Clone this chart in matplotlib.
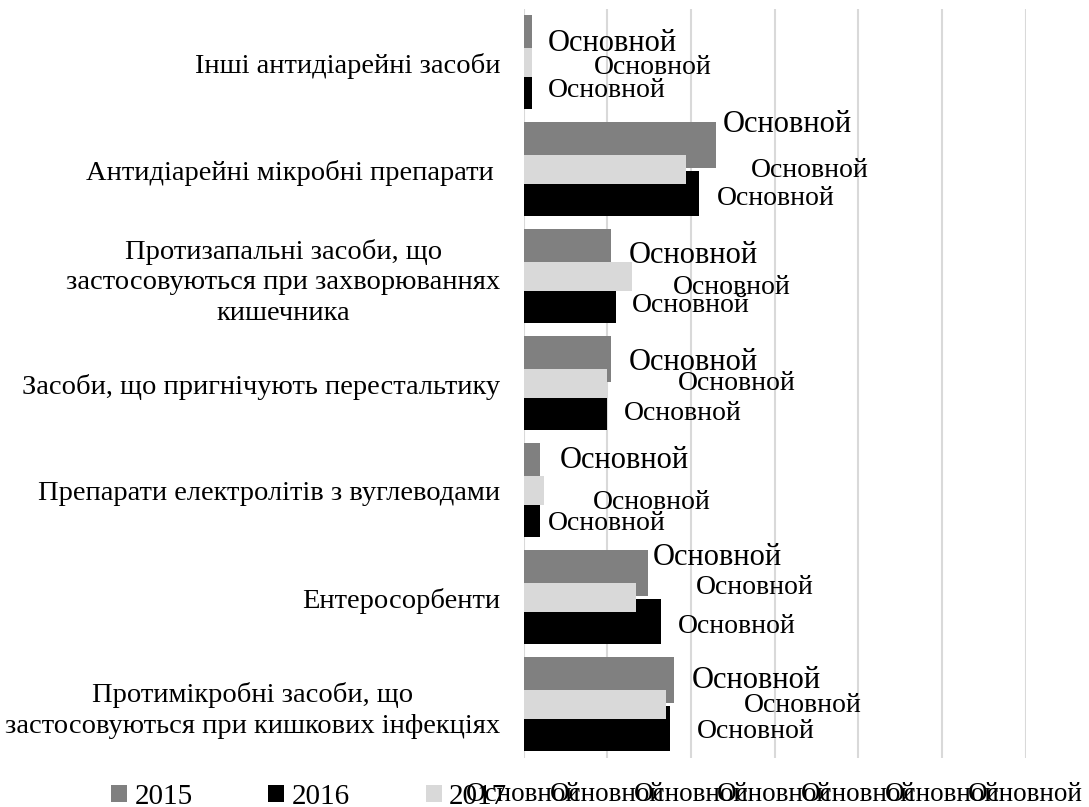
import matplotlib
matplotlib.use("Agg")
import matplotlib.pyplot as plt
import numpy as np
from matplotlib.patches import Patch

plt.rcParams['font.family'] = ['Liberation Serif', 'DejaVu Serif']

categories = [
    "Інші антидіарейні засоби",
    "Антидіарейні мікробні препарати ",
    "Протизапальні засоби, що\nзастосовуються при захворюваннях\nкишечника",
    "Засоби, що пригнічують перестальтику",
    "Препарати електролітів з вуглеводами",
    "Ентеросорбенти",
    "Протимікробні засоби, що\nзастосовуються при кишкових інфекціях",
]
series_names = ["2015", "2016", "2017"]
values_2015 = [0.10, 2.30, 1.05, 1.05, 0.20, 1.49, 1.80]
values_2016 = [0.10, 2.10, 1.10, 1.00, 0.20, 1.64, 1.75]
values_2017 = [0.10, 1.94, 1.30, 1.00, 0.25, 1.34, 1.70]
x_tick_labels = ["Основной"] * 7
data_label_text = "Основной"

# label placement offsets (pixels: right of bar end, below bar centre)
lab_dx_2015 = [16, 7, 17, 17, 20, 5, 18]
lab_dy_2015 = [3, -23, 1, 1, -8.5, -18, -2.5]
lab_dx_2016 = [16, 18, 16, 17, 8, 17, 27]
lab_dy_2016 = [1.5, 2.5, 2, 3.5, 6.5, 2.5, 0.5]
lab_dx_2017 = [62, 65, 41, 71, 48, 60, 78]
lab_dy_2017 = [2, -2.5, 8, -3.5, 8.5, -13.5, -2]

colors = {"2015": "#808080", "2016": "#000000", "2017": "#d9d9d9"}

W, H = 1089, 807
fig = plt.figure(figsize=(W / 100, H / 100), dpi=100)
ax = fig.add_axes([523.5 / W, 1 - 758 / H, 502.2 / W, 749 / H])

y = np.arange(len(categories))
specs = [
    ("2015", values_2015, -0.229, 0.43, 2, lab_dx_2015, lab_dy_2015, 22.0),
    ("2016", values_2016, 0.224, 0.42, 3, lab_dx_2016, lab_dy_2016, 20.0),
    ("2017", values_2017, 0.0, 0.27, 4, lab_dx_2017, lab_dy_2017, 20.0),
]
for name, vals, off, h, z, ldx, ldy, fs in specs:
    ax.barh(y + off, vals, height=h, color=colors[name], zorder=z)
    for i, v in enumerate(vals):
        ax.annotate(data_label_text, xy=(v, y[i] + off), xytext=(ldx[i], -ldy[i] - 3),
                    textcoords='offset pixels', ha='left', va='center',
                    fontsize=fs, color='black', zorder=6, annotation_clip=False)

ax.set_xlim(0, 6)
ax.set_ylim(len(categories) - 0.5, -0.5)
ax.set_xticks(range(7))
ax.set_xticklabels(x_tick_labels, fontsize=19.5)
ax.set_yticks(y)
ax.set_yticklabels(categories, fontsize=20.5, multialignment='center', linespacing=1.3)
ax.tick_params(axis='both', length=0)
ax.tick_params(axis='y', pad=16.5)
ax.tick_params(axis='x', pad=17)
for s in ax.spines.values():
    s.set_visible(False)
ax.grid(axis='x', color='#d9d9d9', linewidth=1.5, zorder=0)
ax.set_axisbelow(True)

handles = [Patch(facecolor=colors[n], edgecolor='none') for n in series_names]
leg = fig.legend(handles, series_names, loc='center left',
                 bbox_to_anchor=(111 / W, 1 - 797 / H), ncol=3, frameon=False,
                 fontsize=21, handlelength=0.55, handleheight=0.55,
                 handletextpad=0.25, columnspacing=2.6, borderpad=0, borderaxespad=0)

fig.savefig("out.png", dpi=100)
